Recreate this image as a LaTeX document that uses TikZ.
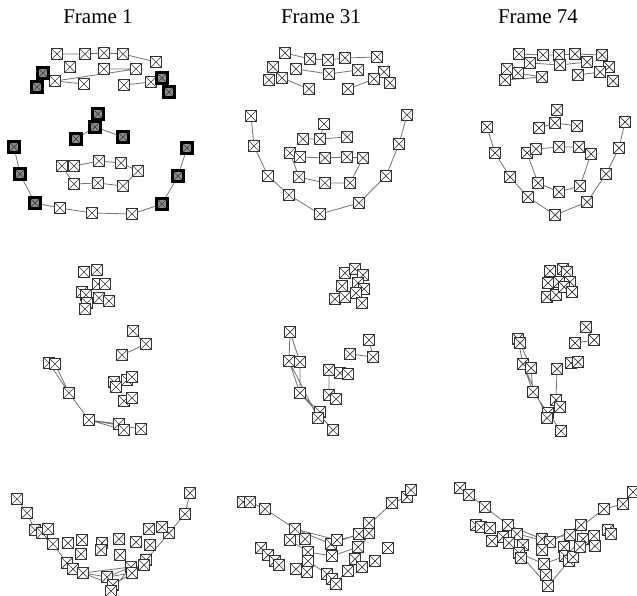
\documentclass[tikz,border=0pt]{standalone}
\usepackage{fontspec}
\setmainfont{Liberation Serif}
\usetikzlibrary{backgrounds}

\begin{document}
\begin{tikzpicture}[
  x=1pt,y=-1pt,
  ttl/.style={font=\fontsize{21}{24}\selectfont,anchor=center},
  mk/.style={draw=black!80,line width=1.1pt,fill=white,rectangle,minimum size=10.5pt,inner sep=0pt,
    path picture={\draw[black!80,line width=.7pt] (path picture bounding box.south west) -- (path picture bounding box.north east)
      (path picture bounding box.north west) -- (path picture bounding box.south east);}},
  hot/.style={mk,draw=black,line width=3pt,fill=black!45},
  ln/.style={draw=black!55,line width=.8pt}
]
\useasboundingbox (0,0) rectangle (637,596);

\node[ttl] (t1) at (98,17) {Frame 1};
\node[ttl] (t31) at (321,17) {Frame 31};
\node[ttl] (t74) at (538,17) {Frame 74};

% frontal view
\foreach \x/\y/\s [count=\i] in {57/54/mk,85/54/mk,104/53/mk,123/54/mk,156/62/mk,
  70/67/mk,104/69/mk,136/69/mk,55/81/mk,84/84/mk,124/85/mk,151/82/mk,
  43/73/hot,37/87/hot,162/78/hot,169/92/hot,
  98/114/hot,95/127/hot,76/139/hot,123/137/hot,
  14/147/hot,20/174/hot,35/203/hot,60/208/mk,92/213/mk,132/214/mk,162/204/hot,178/176/hot,187/148/hot,
  62/166/mk,74/166/mk,99/161/mk,121/163/mk,138/171/mk,74/184/mk,98/183/mk,123/186/mk}
  \node[\s] (a\i) at (\x,\y) {};
\foreach \x/\y [count=\i] in {285/53,310/59,328/60,345/58,377/57,
  273/67,296/69,329/74,358/70,384/72,269/80,282/78,309/89,348/89,374/79,390/83,
  324/124,320/139,303/139,347/137,
  251/116,254/146,268/176,289/195,320/214,359/203,386/176,399/144,407/115,
  290/153,300/157,325/158,347/157,363/158,299/177,325/183,350/183}
  \node[mk] (b\i) at (\x,\y) {};
\foreach \x/\y [count=\i] in {519/54,543/55,559/55,575/54,602/55,
  507/69,530/63,560/65,587/62,609/67,505/80,518/73,542/77,578/75,600/72,613/81,
  557/110,555/123,539/128,577/126,
  487/127,495/153,510/177,528/197,555/215,587/202,606/174,619/148,625/122,
  527/153,536/149,559/147,579/147,591/154,538/183,559/192,580/186}
  \node[mk] (c\i) at (\x,\y) {};

% side view
\foreach \x/\y [count=\i] in {84/272,97/270,98/284,105/284,82/292,86/295,99/298,109/301,87/303,85/309,
  133/331,146/344,122/355,
  114/382,127/380,132/377,116/387,124/401,132/398,
  49/363,55/364,69/393,89/420,119/424,124/430,141/429}
  \node[mk] (d\i) at (\x,\y) {};
\foreach \x/\y [count=\i] in {345/273,355/269,363/275,342/286,358/283,364/289,335/299,345/297,356/293,362/303,
  369/340,373/357,350/354,
  329/370,340/373,348/374,329/395,336/399,
  290/332,289/361,300/362,300/393,320/412,318/418,333/430}
  \node[mk] (e\i) at (\x,\y) {};
\foreach \x/\y [count=\i] in {550/271,563/269,567/272,548/283,559/282,570/282,547/297,556/295,564/287,572/292,
  586/327,594/340,575/343,
  557/369,571/363,578/362,556/400,560/407,
  518/339,520/343,523/364,531/368,533/392,548/413,547/418,561/431}
  \node[mk] (f\i) at (\x,\y) {};

% top view
\foreach \x/\y [count=\i] in {17/499,27/513,35/530,42/533,48/529,53/544,67/563,73/569,83/573,107/577,113/585,111/591,
  190/493,185/514,169/533,162/527,146/560,144/565,131/567,132/573,
  68/543,82/540,102/543,101/550,81/554,119/539,136/542,150/545,149/529,120/555}
  \node[mk] (g\i) at (\x,\y) {};
\foreach \x/\y [count=\i] in {243/502,250/502,265/509,295/529,290/540,305/539,331/544,337/540,359/534,369/533,
  369/523,392/503,407/497,411/490,358/547,332/556,308/552,308/561,355/559,362/567,
  261/548,268/555,275/561,279/565,296/569,307/572,327/574,332/579,336/584,348/571,388/548,375/561}
  \node[mk] (h\i) at (\x,\y) {};
\foreach \x/\y [count=\i] in {460/488,469/495,485/507,508/525,517/534,503/537,509/543,523/545,519/553,521/558,
  542/539,550/542,542/550,544/564,546/575,548/586,564/547,565/556,569/561,573/557,
  570/535,581/525,583/539,580/547,594/536,595/546,604/509,623/504,633/492,
  476/525,481/527,490/528,492/541,608/530,611/534}
  \node[mk] (i\i) at (\x,\y) {};

\begin{scope}[on background layer]
\foreach \p in {a,b,c}{
  \draw[ln] (\p1.center) -- (\p2.center) -- (\p3.center) -- (\p4.center) -- (\p5.center);
  \draw[ln] (\p7.center) -- (\p8.center) -- (\p9.center);
  \draw[ln] (\p19.center) -- (\p18.center) -- (\p20.center);
  \draw[ln] (\p21.center) -- (\p22.center) -- (\p23.center) -- (\p24.center) -- (\p25.center)
    -- (\p26.center) -- (\p27.center) -- (\p28.center) -- (\p29.center);
  \draw[ln] (\p31.center) -- (\p32.center) -- (\p33.center) -- (\p34.center);
  \draw[ln] (\p30.center) -- (\p35.center) -- (\p36.center) -- (\p37.center) -- (\p34.center);
}
\draw[ln] (a9.center) -- (a10.center) (a11.center) -- (a12.center);
\draw[ln] (b12.center) -- (b13.center) (b14.center) -- (b15.center) (b6.center) -- (b11.center) (b17.center) -- (b18.center);
\draw[ln] (c12.center) -- (c13.center) (c14.center) -- (c15.center) (c11.center) -- (c13.center) (c17.center) -- (c18.center);

\draw[ln] (d11.center) -- (d12.center) -- (d13.center);
\draw[ln] (d20.center) -- (d22.center) -- (d23.center) -- (d24.center) (d21.center) -- (d22.center)
  (d23.center) -- (d25.center) (d23.center) -- (d26.center) (d14.center) -- (d17.center);
\draw[ln] (e11.center) -- (e12.center) -- (e13.center) (e14.center) -- (e17.center);
\draw[ln] (e19.center) -- (e20.center) -- (e22.center) -- (e23.center) (e19.center) -- (e21.center) -- (e22.center)
  (e22.center) -- (e25.center) (e20.center) -- (e24.center);
\draw[ln] (f11.center) -- (f12.center) -- (f13.center) (f14.center) -- (f17.center);
\draw[ln] (f19.center) -- (f21.center) -- (f23.center) -- (f24.center) (f20.center) -- (f22.center) -- (f23.center)
  (f23.center) -- (f26.center) (f21.center) -- (f25.center);

\draw[ln] (g1.center) -- (g2.center) -- (g3.center) -- (g6.center) -- (g7.center) -- (g9.center) -- (g10.center) -- (g12.center);
\draw[ln] (g8.center) -- (g11.center) -- (g20.center) (g9.center) -- (g19.center) (g10.center) -- (g20.center) (g12.center) -- (g19.center);
\draw[ln] (g13.center) -- (g14.center) -- (g15.center) -- (g17.center) -- (g18.center) -- (g19.center) -- (g10.center);
\draw[ln] (h2.center) -- (h3.center) -- (h4.center) -- (h7.center) -- (h9.center) -- (h12.center) -- (h13.center) -- (h14.center);
\draw[ln] (h4.center) -- (h8.center) -- (h10.center) -- (h11.center);
\draw[ln] (h5.center) -- (h17.center) -- (h16.center) -- (h15.center) -- (h11.center);
\draw[ln] (h18.center) -- (h27.center) -- (h29.center) -- (h19.center) -- (h10.center);
\draw[ln] (i1.center) -- (i2.center) -- (i3.center) -- (i4.center) -- (i11.center) -- (i21.center) -- (i27.center) -- (i28.center) -- (i29.center);
\draw[ln] (i5.center) -- (i12.center) -- (i22.center);
\draw[ln] (i6.center) -- (i9.center) -- (i14.center) -- (i18.center) -- (i23.center) -- (i22.center);
\draw[ln] (i9.center) -- (i16.center) -- (i19.center);
\end{scope}
\end{tikzpicture}
\end{document}
